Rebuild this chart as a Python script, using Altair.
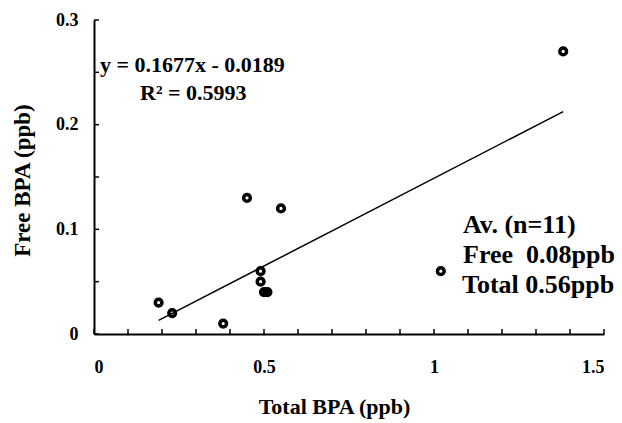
import altair as alt
import pandas as pd

# Data
total_bpa = [0.19, 0.23, 0.38, 0.45, 0.49, 0.49, 0.50, 0.51, 0.55, 1.02, 1.38]
free_bpa = [0.03, 0.02, 0.01, 0.13, 0.06, 0.05, 0.04, 0.04, 0.12, 0.06, 0.27]
slope, intercept = 0.1677, -0.0189

x_ticks = [round(0.1 * i, 1) for i in range(16)]
y_ticks = [round(0.05 * i, 2) for i in range(7)]

eq_lines = ["y = 0.1677x - 0.0189", "R² = 0.5993"]
avg_lines = ["Av. (n=11)", "Free\u00a0 0.08ppb", "Total 0.56ppb"]

FONT = "Liberation Serif"
W, H = 510, 314

pts = pd.DataFrame({"total": total_bpa, "free": free_bpa})
xs = [min(total_bpa), max(total_bpa)]
fit = pd.DataFrame({"total": xs, "free": [slope * v + intercept for v in xs]})

xscale = alt.Scale(domain=[0, 1.5], nice=False, zero=False)
yscale = alt.Scale(domain=[0, 0.3], nice=False, zero=False)

xaxis = alt.Axis(
    values=[0, 0.5, 1, 1.5], format="~g", title="Total BPA (ppb)",
    labelFont=FONT, labelFontSize=18, labelFontWeight="bold", labelColor="black",
    labelPadding=24, titleFont=FONT, titleFontSize=22, titleFontWeight="bold",
    titleColor="black", titleX=240, titleY=72, titleBaseline="middle",
    titleAlign="center",
)
yaxis = alt.Axis(
    values=[0, 0.1, 0.2, 0.3], format="~g", title="Free BPA (ppb)",
    labelFont=FONT, labelFontSize=18, labelFontWeight="bold", labelColor="black",
    labelPadding=16, titleFont=FONT, titleFontSize=23, titleFontWeight="bold",
    titleColor="black", titleX=-72, titleY=160, titleAngle=-90,
    titleBaseline="middle", titleAlign="center",
)

points = alt.Chart(pts).mark_point(
    filled=False, size=45, strokeWidth=3.5, color="black", opacity=1
).encode(
    x=alt.X("total:Q", scale=xscale, axis=xaxis),
    y=alt.Y("free:Q", scale=yscale, axis=yaxis),
)

line = alt.Chart(fit).mark_line(color="black", strokeWidth=1.5).encode(
    x=alt.X("total:Q", scale=xscale),
    y=alt.Y("free:Q", scale=yscale),
)

xt = alt.Chart(pd.DataFrame({"v": x_ticks})).mark_rule(color="black", strokeWidth=1.5).encode(
    x=alt.X("v:Q", scale=xscale), y=alt.value(H), y2=alt.value(H - 5)
)
yt = alt.Chart(pd.DataFrame({"v": y_ticks})).mark_rule(color="black", strokeWidth=1.5).encode(
    y=alt.Y("v:Q", scale=yscale), x=alt.value(0), x2=alt.value(5)
)

eq_df = pd.DataFrame({"t": eq_lines, "px": [6, 46], "py": [45, 73]})
eq = alt.Chart(eq_df).mark_text(
    font=FONT, fontSize=22, fontWeight="bold", color="black", align="left", baseline="middle"
).encode(text="t:N", x=alt.X("px:Q", scale=None), y=alt.Y("py:Q", scale=None))

av_df = pd.DataFrame({"t": avg_lines, "px": [369, 369, 368], "py": [205, 235, 265]})
av = alt.Chart(av_df).mark_text(
    font=FONT, fontSize=26, fontWeight="bold", color="black", align="left", baseline="middle"
).encode(text="t:N", x=alt.X("px:Q", scale=None), y=alt.Y("py:Q", scale=None))

chart = alt.layer(xt, yt, line, points, eq, av).properties(
    width=W, height=H, autosize="none",
    padding={"left": 94, "top": 20, "right": 18, "bottom": 89},
    background="white",
).configure_view(stroke=None).configure_axis(
    grid=False, ticks=False, domainColor="black", domainWidth=2
)

chart.save("out.html", embed_options={"renderer": "svg", "actions": False})
